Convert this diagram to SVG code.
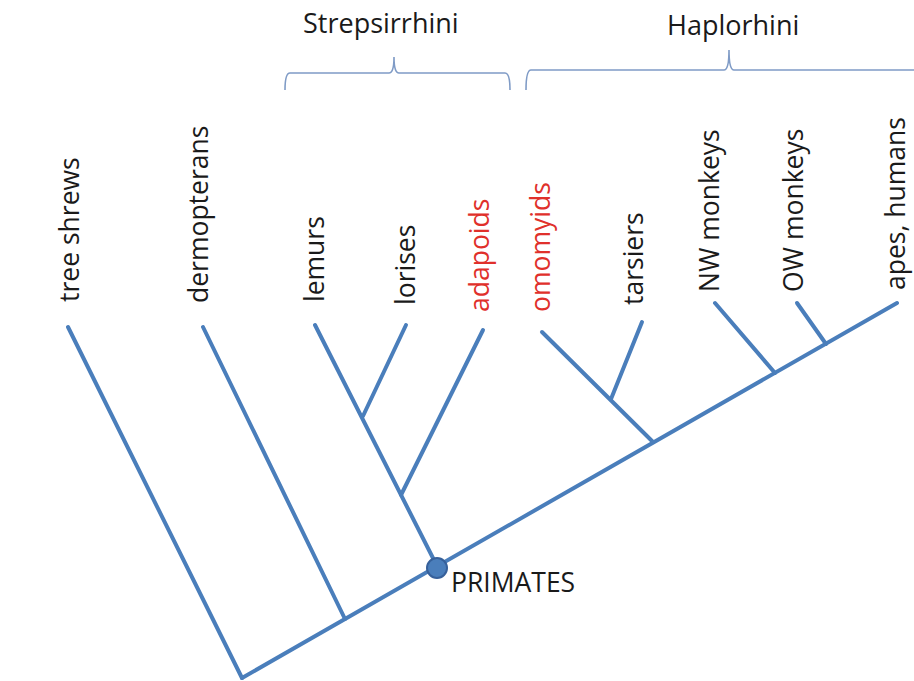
<svg xmlns="http://www.w3.org/2000/svg" width="914" height="681" viewBox="0 0 914 681">
<style>
.br{stroke:#4A7EBB;stroke-width:4;fill:none;stroke-linecap:round}
.brace{stroke:#7F9BC6;stroke-width:1.6;fill:none}
.t{font-family:"Open Sans","Liberation Sans",sans-serif;font-size:26.5px;fill:#1a1a1a}
.h{font-size:27px}
.red{fill:#E0302B}
</style>
<rect width="914" height="681" fill="#ffffff"/>
<g id="connectors">
<line class="br" x1="242" y1="678" x2="897" y2="303"/>
<line class="br" x1="68" y1="327" x2="242" y2="678"/>
<line class="br" x1="203" y1="327" x2="345" y2="619"/>
<line class="br" x1="315" y1="325" x2="437" y2="566"/>
<line class="br" x1="406" y1="325" x2="363" y2="416"/>
<line class="br" x1="483" y1="330" x2="401" y2="495"/>
<line class="br" x1="542" y1="332" x2="653" y2="442"/>
<line class="br" x1="642" y1="322" x2="611" y2="399"/>
<line class="br" x1="715" y1="303" x2="775" y2="373"/>
<line class="br" x1="797" y1="303" x2="826" y2="344"/>
</g>
<g id="brace-strepsirrhini">
<path class="brace" d="M285,90 Q285,73 290,73 L389,73 Q394,73 394,57 Q394,73 399,73 L505,73 Q510,73 510,90"/>
<text class="t h" x="303" y="33">Strepsirrhini</text>
</g>
<g id="brace-haplorhini">
<path class="brace" d="M526,90 Q526,70 531,70 L724,70 Q729,70 729,50 Q729,70 734,70 L914,70"/>
<text class="t h" x="667" y="35">Haplorhini</text>
</g>
<g id="node-primates">
<circle cx="437" cy="568" r="10" fill="#4A7EBB" stroke="#36609A" stroke-width="2"/>
<text class="t" x="451" y="592">PRIMATES</text>
</g>
<g id="node-tree-shrews"><text class="t" transform="translate(79,302) rotate(-90)">tree shrews</text></g>
<g id="node-dermopterans"><text class="t" transform="translate(208,303) rotate(-90)">dermopterans</text></g>
<g id="node-lemurs"><text class="t" transform="translate(324,302) rotate(-90)">lemurs</text></g>
<g id="node-lorises"><text class="t" transform="translate(415,305) rotate(-90)">lorises</text></g>
<g id="node-adapoids"><text class="t red" transform="translate(489,312) rotate(-90)">adapoids</text></g>
<g id="node-omomyids"><text class="t red" transform="translate(550,312) rotate(-90)">omomyids</text></g>
<g id="node-tarsiers"><text class="t" transform="translate(643,305) rotate(-90)">tarsiers</text></g>
<g id="node-nw-monkeys"><text class="t" transform="translate(719,292) rotate(-90)">NW monkeys</text></g>
<g id="node-ow-monkeys"><text class="t" transform="translate(803,292) rotate(-90)">OW monkeys</text></g>
<g id="node-apes-humans"><text class="t" transform="translate(905,290) rotate(-90)">apes, humans</text></g>
</svg>
